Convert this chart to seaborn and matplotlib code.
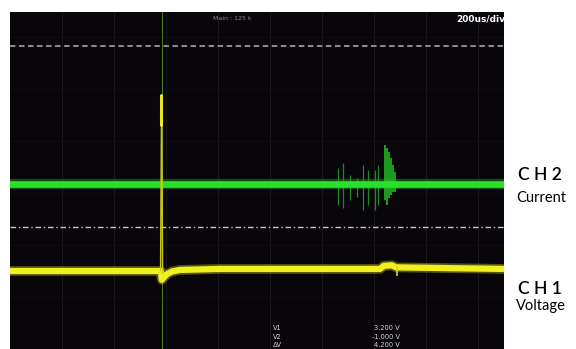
import matplotlib
matplotlib.use("Agg")
import matplotlib.pyplot as plt
import seaborn as sns
import pandas as pd

# ---- data (time in us, level in screen divisions) ----
ch1_time = [0, 580, 584, 590, 604, 623, 654, 808, 1423, 1438, 1469, 1485, 1896]
ch1_level = [1.50, 1.50, 1.33, 1.37, 1.44, 1.49, 1.52, 1.54, 1.54, 1.60, 1.61, 1.57, 1.54]

spike_time = [579, 583, 587]
spike_level = [1.50, 4.88, 1.45]
spike_head_time = [582.5, 583, 583.5]
spike_head_level = [4.30, 4.88, 4.30]

dip_time = 1488
dip_top, dip_bot = 1.60, 1.40

ch2_time = [0, 1896]
ch2_level = [3.17, 3.17]

burst_time = [585, 1262, 1281, 1308, 1335, 1358, 1377, 1404, 1415]
burst_top = [3.35, 3.48, 3.58, 3.35, 3.29, 3.54, 3.44, 3.44, 3.54]
burst_bot = [2.96, 2.77, 2.71, 2.87, 2.92, 2.67, 2.77, 2.67, 2.77]

burst2_time = [1442, 1450, 1458, 1465, 1473, 1481]
burst2_top = [3.92, 3.87, 3.79, 3.67, 3.54, 3.40]
burst2_bot = [2.87, 2.77, 2.90, 2.96, 3.02, 3.02]

trigger_time = 585
cursor_dash = 5.83
cursor_dashdot = 2.35

readout_names = ["V1", "V2", "ΔV"]
readout_values = ["3.200 V", "-1.000 V", "4.200 V"]
readout_y = [0.40, 0.23, 0.07]

# ---- figure ----
sns.set_theme(style="dark")
plt.rcParams['font.family'] = ['DejaVu Sans']
fig = plt.figure(figsize=(5.76, 3.49), dpi=100, facecolor="white")
ax = fig.add_axes([10 / 576, 0, 494 / 576, 337 / 349])
ax.set_facecolor("#08050b")
for s in ax.spines.values():
    s.set_visible(False)
ax.set_xlim(0, 1900)
ax.set_ylim(0, 337 / 52)
ax.set_xticks([])
ax.set_yticks([])

# faint graticule
for gx in range(200, 1900, 200):
    ax.axvline(gx, color="#19161d", lw=0.8, zorder=0)
for gy in [1, 2, 3, 4, 5, 6]:
    ax.axhline(gy, color="#110f15", lw=0.6, zorder=0)

# cursors
ax.axhline(cursor_dash, color="#9a9a9a", lw=1.3, dashes=(3, 2), zorder=1)
ax.axhline(cursor_dashdot, color="#c8c8c8", lw=1.0, dashes=(4, 2, 1, 2), zorder=1)

# trigger marker
ax.axvline(trigger_time, color="#4f7f2f", lw=0.7, zorder=2)

df1 = pd.DataFrame({"t": ch1_time, "v": ch1_level})
df2 = pd.DataFrame({"t": ch2_time, "v": ch2_level})
dfs = pd.DataFrame({"t": spike_time, "v": spike_level})
dfh = pd.DataFrame({"t": spike_head_time, "v": spike_head_level})

# CH2 current (green)
sns.lineplot(data=df2, x="t", y="v", ax=ax, color="#1fd21f", lw=7.5, alpha=0.35, zorder=3)
sns.lineplot(data=df2, x="t", y="v", ax=ax, color="#2ae02a", lw=4.8, zorder=4)
ax.vlines(burst_time, burst_bot, burst_top, color="#1f9a1f", lw=0.9, alpha=0.9, zorder=3)
ax.vlines(burst2_time, burst2_bot, burst2_top, color="#22b822", lw=1.2, zorder=3)

# CH1 voltage (yellow)
sns.lineplot(data=df1, x="t", y="v", ax=ax, color="#e6e617", lw=7.0, alpha=0.35, zorder=5, sort=False)
sns.lineplot(data=df1, x="t", y="v", ax=ax, color="#f0f020", lw=4.5, zorder=6, sort=False)
sns.lineplot(data=dfs, x="t", y="v", ax=ax, color="#c8c81a", lw=1.0, zorder=6, sort=False)
sns.lineplot(data=dfh, x="t", y="v", ax=ax, color="#e8e820", lw=1.8, zorder=6, sort=False)
ax.vlines([dip_time], [dip_bot], [dip_top], color="#d8d818", lw=1.2, zorder=6)
ax.set_xlabel("")
ax.set_ylabel("")

# screen texts
ax.text(854, 6.35, "Main : 125 k", color="#8a8a8a", fontsize=4.5, ha="center", va="center")
ax.text(1905, 6.35, "200us/div", color="white", fontsize=6.5, fontweight="bold",
        ha="right", va="center", clip_on=True)
for name, val, yy in zip(readout_names, readout_values, readout_y):
    ax.text(1010, yy, name, color="#d8d8d8", fontsize=4.8, ha="left", va="center")
    ax.text(1500, yy, val, color="#d8d8d8", fontsize=4.8, ha="right", va="center")

# side labels
lab = dict(color="black", ha="center", va="center", family=["Lato", "DejaVu Sans"])
fig.text(540 / 576, 1 - 175 / 349, "C H 2", fontsize=12.5, fontweight="semibold", **lab)
fig.text(541 / 576, 1 - 198 / 349, "Current", fontsize=10.5, **lab)
fig.text(540 / 576, 1 - 289 / 349, "C H 1", fontsize=12.5, fontweight="semibold", **lab)
fig.text(541 / 576, 1 - 306 / 349, "Voltage", fontsize=10.5, **lab)

fig.savefig("out.png", dpi=100, facecolor="white")
